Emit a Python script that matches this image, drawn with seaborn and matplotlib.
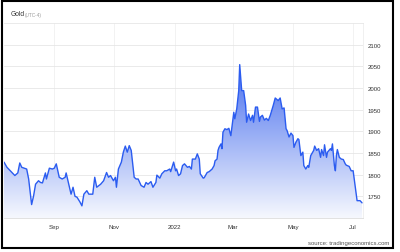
import numpy as np
import pandas as pd
import matplotlib
matplotlib.use("Agg")
import matplotlib.pyplot as plt
import matplotlib.dates as mdates
import seaborn as sns
from matplotlib.colors import LinearSegmentedColormap
from matplotlib.patches import Rectangle

dates = [
    "2021-07-12", "2021-07-15", "2021-07-20", "2021-07-23", "2021-07-26", "2021-07-28", "2021-07-30",
    "2021-08-04", "2021-08-06", "2021-08-09", "2021-08-11", "2021-08-13", "2021-08-16", "2021-08-18",
    "2021-08-20", "2021-08-23", "2021-08-24", "2021-08-27", "2021-08-30", "2021-09-01", "2021-09-03",
    "2021-09-06", "2021-09-09", "2021-09-12", "2021-09-13", "2021-09-16", "2021-09-18", "2021-09-20",
    "2021-09-22", "2021-09-24", "2021-09-27", "2021-09-29", "2021-10-01", "2021-10-04", "2021-10-06",
    "2021-10-10", "2021-10-12", "2021-10-14", "2021-10-18", "2021-10-21", "2021-10-24", "2021-10-26",
    "2021-10-28", "2021-10-31", "2021-11-02", "2021-11-03", "2021-11-05", "2021-11-08", "2021-11-10",
    "2021-11-12", "2021-11-14", "2021-11-16", "2021-11-18", "2021-11-21", "2021-11-23", "2021-11-25",
    "2021-11-28", "2021-12-01", "2021-12-03", "2021-12-05", "2021-12-08", "2021-12-10", "2021-12-13",
    "2021-12-14", "2021-12-17", "2021-12-19", "2021-12-22", "2021-12-24", "2021-12-27", "2021-12-28",
    "2021-12-31", "2022-01-02", "2022-01-03", "2022-01-05", "2022-01-07", "2022-01-09", "2022-01-11",
    "2022-01-14", "2022-01-16", "2022-01-18", "2022-01-19", "2022-01-22", "2022-01-24", "2022-01-26",
    "2022-01-27", "2022-01-30", "2022-01-31", "2022-02-03", "2022-02-05", "2022-02-08", "2022-02-10",
    "2022-02-11", "2022-02-13", "2022-02-14", "2022-02-15", "2022-02-17", "2022-02-18", "2022-02-19",
    "2022-02-21", "2022-02-23", "2022-02-25", "2022-02-27", "2022-03-02", "2022-03-03", "2022-03-05",
    "2022-03-07", "2022-03-08", "2022-03-10", "2022-03-12", "2022-03-14", "2022-03-15", "2022-03-17",
    "2022-03-19", "2022-03-21", "2022-03-22", "2022-03-24", "2022-03-26", "2022-03-28", "2022-03-29",
    "2022-03-31", "2022-04-02", "2022-04-04", "2022-04-06", "2022-04-08", "2022-04-11", "2022-04-13",
    "2022-04-16", "2022-04-18", "2022-04-20", "2022-04-22", "2022-04-24", "2022-04-25", "2022-04-27",
    "2022-04-29", "2022-05-01", "2022-05-02", "2022-05-04", "2022-05-06", "2022-05-07", "2022-05-09",
    "2022-05-11", "2022-05-12", "2022-05-14", "2022-05-16", "2022-05-17", "2022-05-19", "2022-05-22",
    "2022-05-23", "2022-05-25", "2022-05-27", "2022-05-29", "2022-05-30", "2022-06-01", "2022-06-02",
    "2022-06-04", "2022-06-05", "2022-06-08", "2022-06-09", "2022-06-10", "2022-06-12", "2022-06-13",
    "2022-06-14", "2022-06-15", "2022-06-17", "2022-06-19", "2022-06-21", "2022-06-23", "2022-06-24",
    "2022-06-27", "2022-06-29", "2022-07-01", "2022-07-03", "2022-07-05", "2022-07-06", "2022-07-08",
    "2022-07-10",
]
prices = [
    1829, 1817, 1805, 1798, 1804, 1827, 1817,
    1813, 1790, 1731, 1751, 1778, 1786, 1782,
    1781, 1804, 1790, 1815, 1813, 1815, 1825,
    1794, 1790, 1794, 1804, 1775, 1755, 1771,
    1750, 1748, 1737, 1728, 1755, 1763, 1755,
    1755, 1794, 1771, 1778, 1786, 1805, 1794,
    1798, 1786, 1794, 1771, 1813, 1829, 1852,
    1866, 1852, 1867, 1856, 1794, 1790, 1790,
    1775, 1771, 1782, 1778, 1784, 1771, 1782,
    1799, 1792, 1802, 1809, 1809, 1813, 1807,
    1829, 1809, 1813, 1798, 1802, 1821, 1825,
    1817, 1819, 1813, 1836, 1836, 1848, 1836,
    1802, 1792, 1793, 1805, 1807, 1813, 1821,
    1832, 1836, 1856, 1863, 1871, 1860, 1898,
    1906, 1904, 1907, 1890, 1944, 1929, 1952,
    1994, 2054, 1994, 1994, 1960, 1921, 1940,
    1925, 1937, 1921, 1956, 1956, 1923, 1933,
    1937, 1926, 1930, 1925, 1937, 1960, 1977,
    1971, 1977, 1952, 1954, 1906, 1902, 1887,
    1896, 1890, 1863, 1875, 1883, 1881, 1844,
    1852, 1821, 1813, 1821, 1817, 1844, 1856,
    1866, 1856, 1860, 1840, 1858, 1844, 1869,
    1840, 1852, 1860, 1856, 1871, 1821, 1809,
    1844, 1858, 1840, 1836, 1835, 1825, 1822,
    1819, 1809, 1809, 1775, 1740, 1740, 1740,
    1735,
]
y_ticks = [1750, 1800, 1850, 1900, 1950, 2000, 2050, 2100]
x_tick_dates = ["2021-09-01", "2021-11-01", "2022-01-01", "2022-03-01", "2022-05-01", "2022-07-01"]
x_tick_labels = ["Sep", "Nov", "2022", "Mar", "May", "Jul"]

sns.set_theme(style="white")
plt.rcParams["font.family"] = ["Liberation Sans", "DejaVu Sans"]

df = pd.DataFrame({"date": pd.to_datetime(dates), "price": prices})

fig = plt.figure(figsize=(4, 2.53), dpi=100)
ax = fig.add_axes([0.01, 0.1344, 0.8975, 0.7706])

# gradient area fill
y_min, y_max = 1700, 2150
poly = ax.fill_between(df["date"], df["price"], y_min, color="none", lw=0)
xnum = mdates.date2num(df["date"])
grad = np.linspace(0, 1, 256).reshape(-1, 1)
cmap = LinearSegmentedColormap.from_list("g", ["#f6f8fe", "#4a70ee"])
im = ax.imshow(grad, origin="lower", aspect="auto", cmap=cmap,
               extent=[xnum.min(), xnum.max(), y_min, max(prices)], zorder=1)
im.set_clip_path(poly.get_paths()[0], transform=ax.transData)

sns.lineplot(data=df, x="date", y="price", color="#2b5cf0", lw=1.0, ax=ax, zorder=3)

ax.set_xlim(pd.Timestamp("2021-07-12"), pd.Timestamp("2022-07-11"))
ax.set_ylim(y_min, y_max)
ax.set_xlabel("")
ax.set_ylabel("")

ax.yaxis.tick_right()
ax.set_yticks(y_ticks)
ax.set_yticklabels([str(v) for v in y_ticks])
ax.set_xticks(pd.to_datetime(x_tick_dates))
ax.set_xticklabels(x_tick_labels)
ax.tick_params(axis="y", length=0, pad=3.5, labelsize=4.3, labelcolor="#333333")
ax.tick_params(axis="x", length=0, pad=4, labelsize=4.4, labelcolor="#333333")

ax.grid(axis="y", color="#e6e6e6", lw=0.6)
ax.grid(axis="x", color="#f0f0f0", lw=0.6)
ax.set_axisbelow(True)
ax.spines["left"].set_visible(False)
ax.spines["top"].set_color("#e6e6e6")
ax.spines["top"].set_linewidth(0.6)
ax.spines["right"].set_color("#eeeeee")
ax.spines["right"].set_linewidth(0.6)
ax.spines["bottom"].set_color("#dddddd")
ax.spines["bottom"].set_linewidth(0.6)

fig.text(11 / 400, 1 - 15 / 253, "Gold", fontsize=4.8, color="#333333", va="center")
fig.text(25 / 400, 1 - 15.3 / 253, "(UTC-4)", fontsize=3.4, color="#9a9a9a", va="center")
fig.text(389 / 400, 1 - 244 / 253, "source: tradingeconomics.com", fontsize=4.3,
         color="#555555", ha="right", va="center")

fig.patches.append(Rectangle((0.00375, 0.0158), 0.979, 0.978, transform=fig.transFigure,
                             fill=False, lw=1.5, ec="black", zorder=10))

fig.savefig("out.png", dpi=100)
